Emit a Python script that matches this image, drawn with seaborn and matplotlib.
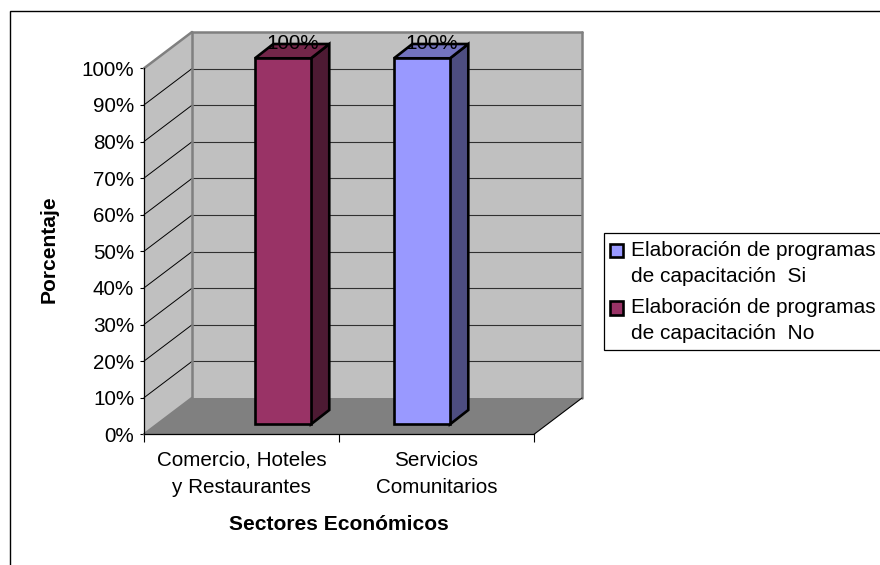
import matplotlib
matplotlib.use("Agg")
import matplotlib.pyplot as plt
import pandas as pd
import seaborn as sns
from matplotlib.legend_handler import HandlerPatch
from matplotlib.lines import Line2D
from matplotlib.patches import Patch, Polygon, Rectangle
from matplotlib.transforms import Affine2D, IdentityTransform

categories = ["Comercio, Hoteles\ny Restaurantes", "Servicios\nComunitarios"]
series_si_name = "Elaboración de programas\nde capacitación  Si"
series_no_name = "Elaboración de programas\nde capacitación  No"
series_si = [0, 100]
series_no = [100, 0]
y_ticks = list(range(0, 101, 10))
y_labels = [f"{v}%" for v in y_ticks]
x_title = "Sectores Económicos"
y_title = "Porcentaje"

W, H = 880, 565
FS = 14.9
FS_LEG = 15.0
FS_TITLE = 15.1
DEPTH = (48, 36.3)
BAR_SHIFT = (13.5, 10)
BAR_DEPTH = (18.3, 14.3)
BAR_LW = 1.9
WALL, FLOOR, EDGE = "#C0C0C0", "#808080", "#808080"
COL_SI, COL_NO = "#9999FF", "#993366"
SHADES = {COL_SI: ("#7373BF", "#4D4D80"), COL_NO: ("#732649", "#4D1A33")}

sns.set_theme(style="white")
plt.rcParams["font.family"] = ["Liberation Sans", "DejaVu Sans"]
plt.rcParams["text.color"] = "black"

fig = plt.figure(figsize=(W / 100, H / 100), dpi=100)
ax = fig.add_axes([144 / W, 1 - 434.3 / H, 390 / W, 366 / H])
ax.patch.set_visible(False)

df = pd.DataFrame({
    "sector": categories * 2,
    "valor": series_si + series_no,
    "serie": [series_si_name] * 2 + [series_no_name] * 2,
})
sns.barplot(data=df, x="sector", y="valor", hue="serie", ax=ax,
            palette=[COL_SI, COL_NO], saturation=1, width=0.574, gap=0,
            edgecolor="black", linewidth=BAR_LW, legend=False, errorbar=None)
ax.set_xlim(-0.5, 1.5)
ax.set_ylim(0, 100)
fig.canvas.draw()


def px(x, v, d=0.0):
    """Data point at depth fraction d, as display pixels."""
    p = ax.transData.transform((x, v))
    return (p[0] + DEPTH[0] * d, p[1] + DEPTH[1] * d)


def poly(pts, z, **kw):
    ax.add_patch(Polygon(pts, closed=True, transform=IdentityTransform(),
                         clip_on=False, zorder=z, joinstyle="miter", **kw))


def line(a, b, z, **kw):
    ax.add_line(Line2D([a[0], b[0]], [a[1], b[1]], transform=IdentityTransform(),
                       clip_on=False, zorder=z, **kw))


x0, x1 = ax.get_xlim()
top = y_ticks[-1]
bars = [p for p in ax.patches if isinstance(p, Rectangle)]
# walls and floor
poly([px(x0, 0, 1), px(x1, 0, 1), px(x1, top, 1), px(x0, top, 1)], 0.3, facecolor=WALL, edgecolor="none")
poly([px(x0, 0), px(x0, 0, 1), px(x0, top, 1), px(x0, top)], 0.3, facecolor=WALL, edgecolor="none")
poly([px(x0, 0), px(x1, 0), px(x1, 0, 1), px(x0, 0, 1)], 0.4, facecolor=FLOOR, edgecolor="none")
for v in y_ticks[1:-1]:
    line(px(x0, v, 1), px(x1, v, 1), 0.5, color="#303030", lw=0.8)
    line(px(x0, v), px(x0, v, 1), 0.5, color="black", lw=0.7)
# wall edges
for a, b in [(px(x0, top), px(x0, top, 1)), (px(x0, top, 1), px(x1, top, 1)),
             (px(x0, 0, 1), px(x0, top, 1)), (px(x1, 0, 1), px(x1, top, 1)),
             (px(x0, 0), px(x0, 0, 1))]:
    line(a, b, 0.6, color=EDGE, lw=1.8, solid_capstyle="round")
line(px(x1, 0), px(x1, 0, 1), 0.6, color="black", lw=0.8)

# bars: front faces come from seaborn, shifted into the 3-D depth
shift = ax.transData + Affine2D().translate(*BAR_SHIFT)
labelled = []
for patch in bars:
    h = patch.get_height()
    if h == 0 or patch.get_width() == 0:
        patch.set_visible(False)
        continue
    patch.set_transform(shift)
    patch.set_clip_on(False)
    patch.set_zorder(3)
    patch.set_joinstyle("miter")
    xa, xb = patch.get_x(), patch.get_x() + patch.get_width()
    fill = matplotlib.colors.to_hex(patch.get_facecolor()).upper()
    top_c, side_c = SHADES[fill]
    p = lambda x, v, k=0: (px(x, v)[0] + BAR_SHIFT[0] + BAR_DEPTH[0] * k,
                           px(x, v)[1] + BAR_SHIFT[1] + BAR_DEPTH[1] * k)
    poly([p(xb, 0), p(xb, 0, 1), p(xb, h, 1), p(xb, h)], 2.9, facecolor=side_c, edgecolor="black", linewidth=BAR_LW)
    poly([p(xa, h), p(xb, h), p(xb, h, 1), p(xa, h, 1)], 2.9, facecolor=top_c, edgecolor="black", linewidth=BAR_LW)
    labelled.append(((xa + xb) / 2, h))

for (xc, h) in labelled:
    ax.annotate(f"{h:.0f}%", xy=(xc, h), xycoords="data", xytext=(17, 18.2),
                textcoords="offset points", ha="center", va="center",
                fontsize=FS, color="black", zorder=6, annotation_clip=False)

# axes
sns.despine(ax=ax)
for s in ("left", "bottom"):
    ax.spines[s].set_color("black")
    ax.spines[s].set_linewidth(0.9)
    ax.spines[s].set_zorder(1)
ax.set_yticks(y_ticks, labels=y_labels)
ax.set_xticks([x0, (x0 + x1) / 2, x1], labels=["", "", ""])
ax.set_xticks([0, 1], labels=categories, minor=True)
ax.tick_params(axis="y", which="major", left=True, length=3.2, width=0.8, pad=3.9, labelsize=FS, colors="black")
ax.tick_params(axis="x", which="major", bottom=True, length=5.6, width=0.8, color="black")
ax.tick_params(axis="x", which="minor", bottom=False, length=0, pad=12, labelsize=FS, labelcolor="black")
ax.xaxis.get_major_ticks()[-1].tick1line.set_color("#808080")
for t in ax.get_xticklabels(minor=True):
    t.set_linespacing(1.52)
ax.set_xlabel("")
ax.set_ylabel("")
fig.text(339 / W, 1 - 524 / H, x_title, ha="center", va="center", fontsize=FS_TITLE, fontweight="bold")
fig.text(49 / W, 1 - 249 / H, y_title, ha="center", va="center", rotation=90, fontsize=FS_TITLE, fontweight="bold")


# legend, running off the right edge as in the source
def raised_swatch(legend, orig_handle, xdescent, ydescent, width, height, fontsize):
    # the key sits beside the first text line, not the middle of the block
    return Rectangle((-xdescent, -ydescent + 9.5), width, height)


handles = [Patch(facecolor=COL_SI, edgecolor="black", linewidth=BAR_LW),
           Patch(facecolor=COL_NO, edgecolor="black", linewidth=BAR_LW)]
ax.add_patch(Rectangle((604.3 / W, 1 - 350 / H), 300 / W, 117 / H, transform=fig.transFigure,
                       facecolor="white", edgecolor="black", linewidth=0.9, zorder=7, clip_on=False))
leg = ax.legend(handles, [series_si_name, series_no_name], loc="upper left",
                bbox_to_anchor=(608 / W, 1 - 239 / H),
                bbox_transform=fig.transFigure, fontsize=FS_LEG, frameon=False,
                borderpad=0.1, borderaxespad=0,
                handlelength=0.62, handleheight=0.62, handletextpad=0.4, labelspacing=0.6,
                labelcolor="black", handler_map={Patch: HandlerPatch(patch_func=raised_swatch)})
leg.set_zorder(8)
for t in leg.get_texts():
    t.set_linespacing(1.46)

# chart-area border, cut by the image on the right and bottom
fig.add_artist(Rectangle((9.5 / W, -0.05), 1.0, 1 - 10.5 / H + 0.05, transform=fig.transFigure,
                         facecolor="none", edgecolor="black", linewidth=1.0))

fig.savefig("out.png", dpi=100, facecolor="white")
